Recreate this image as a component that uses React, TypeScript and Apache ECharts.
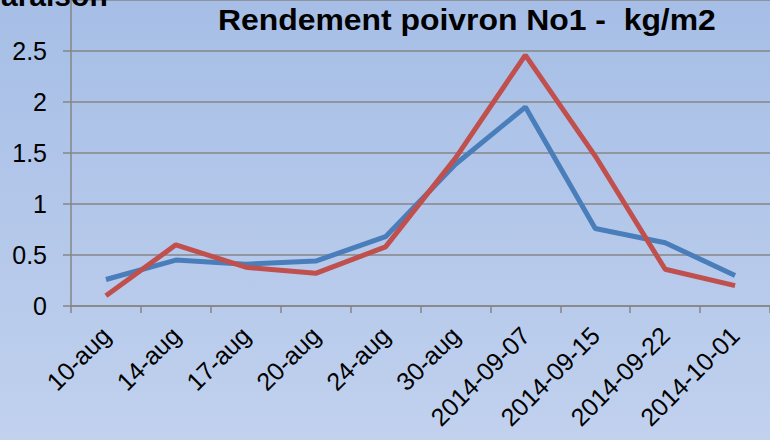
import React, { useEffect, useRef } from "react";
import * as echarts from "echarts";

const categories = ["10-aug", "14-aug", "17-aug", "20-aug", "24-aug", "30-aug", "2014-09-07", "2014-09-15", "2014-09-22", "2014-10-01"];
const seriesBlue = [0.26, 0.45, 0.41, 0.44, 0.68, 1.39, 1.95, 0.76, 0.62, 0.30];
const seriesRed = [0.10, 0.60, 0.38, 0.32, 0.58, 1.45, 2.46, 1.47, 0.36, 0.20];
const titleText = "Rendement poivron No1 -  kg/m2";
const cutText = "Comparaison";

export default function App() {
  const ref = useRef<HTMLDivElement>(null);
  useEffect(() => {
    if (!ref.current) return;
    const chart = echarts.init(ref.current, null, { renderer: "svg" });
    chart.setOption({
      animation: false,
      backgroundColor: new echarts.graphic.LinearGradient(0, 0, 0, 1, [
        { offset: 0, color: "#a6bee6" },
        { offset: 1, color: "#c1d1ee" },
      ]),
      grid: { left: 71, right: -6, top: -2.4, bottom: 134, containLabel: false },
      xAxis: {
        type: "category",
        data: categories,
        boundaryGap: true,
        axisLine: { lineStyle: { color: "#868686", width: 1.5 } },
        axisTick: { show: true, length: 7, lineStyle: { color: "#868686", width: 1.5 } },
        axisLabel: {
          interval: 0,
          rotate: 45,
          margin: 25,
          color: "#000",
          fontSize: 25,
          fontFamily: "Liberation Sans, Arial, sans-serif",
        },
      },
      yAxis: {
        type: "value",
        min: 0,
        max: 3,
        interval: 0.5,
        axisLine: { show: true, lineStyle: { color: "#868686", width: 1.5 } },
        axisTick: { show: true, length: 8, lineStyle: { color: "#868686", width: 1.5 } },
        splitLine: { lineStyle: { color: "#868686", width: 1.5 } },
        axisLabel: {
          margin: 24,
          showMaxLabel: false,
          color: "#000",
          fontSize: 25,
          fontFamily: "Liberation Sans, Arial, sans-serif",
          formatter: (v: number) => (v >= 3 ? "" : String(v)),
        },
      },
      graphic: [
        {
          type: "text",
          x: 218,
          y: 34,
          scaleX: 1.1,
          style: {
            text: titleText,
            font: "bold 29px 'Liberation Sans', Arial, sans-serif",
            fill: "#000",
            verticalAlign: "bottom",
          },
          z: 10,
        },
        {
          type: "text",
          x: -84,
          y: 10,
          style: {
            text: cutText,
            font: "bold 30px 'Liberation Sans', Arial, sans-serif",
            fill: "#000",
            verticalAlign: "bottom",
          },
          z: 10,
        },
      ],
      series: [
        {
          type: "line",
          data: seriesBlue,
          showSymbol: false,
          symbol: "none",
          lineStyle: { color: "#4a7ebb", width: 5 },
          itemStyle: { color: "#4a7ebb" },
        },
        {
          type: "line",
          data: seriesRed,
          showSymbol: false,
          symbol: "none",
          lineStyle: { color: "#c0504d", width: 5 },
          itemStyle: { color: "#c0504d" },
        },
      ],
    });
    return () => chart.dispose();
  }, []);
  return (
    <div
      ref={ref}
      style={{ position: "absolute", left: 0, top: 0, width: 770, height: 440 }}
    />
  );
}
